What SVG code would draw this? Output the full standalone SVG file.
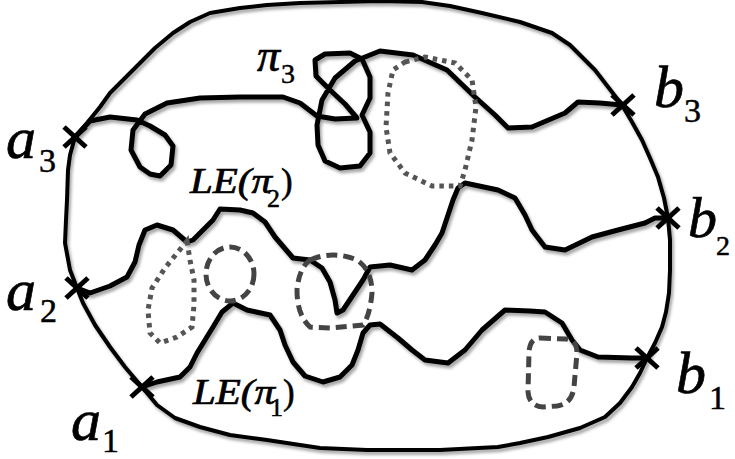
<svg xmlns="http://www.w3.org/2000/svg" width="735" height="459" viewBox="0 0 735 459">
<defs>
<filter id="sh" x="-5%" y="-5%" width="110%" height="115%">
<feDropShadow dx="2" dy="3" stdDeviation="1.8" flood-color="#000" flood-opacity="0.35"/>
</filter>
</defs>
<style>
.bd{fill:none;stroke:#000;stroke-width:4;stroke-linejoin:round;stroke-linecap:round}
.pa{fill:none;stroke:#000;stroke-width:5;stroke-linejoin:round;stroke-linecap:round}
.dot{fill:none;stroke:#555;stroke-width:5;stroke-dasharray:4.5 5}
.dash{fill:none;stroke:#444;stroke-width:5;stroke-dasharray:11 6}
.x{stroke:#000;stroke-width:5;stroke-linecap:butt}
.lb{font-family:"Liberation Serif","Times New Roman",serif;font-style:italic;fill:#000;stroke:#000;stroke-width:0.7}
.up{font-family:"Liberation Serif","Times New Roman",serif;font-style:normal;fill:#000;stroke:#000;stroke-width:0.5}
</style>
<rect width="735" height="459" fill="#fff"/>
<g id="connectors" filter="url(#sh)">
<path id="boundary" class="bd" d="M75,137 L87,123 L100,107 L110,93 L125,78 L140,63 L155,48 L173,33 L190,22 L210,13 L240,8 L267,5 L300,3 L340,2 L380,1 L422,2 L450,6 L482,13 L520,22 L552,33 L570,45 L582,57 L595,70 L605,83 L622,105 L632,122 L642,140 L650,158 L658,177 L664,198 L668,218 L670,240 L670,270 L669,293 L666,312 L662,327 L655,343 L647,358 L640,373 L632,387 L620,403 L605,417 L580,428 L548,437 L520,443 L498,447 L440,450 L367,450 L320,448 L267,440 L230,435 L200,427 L175,418 L157,405 L142,387 L125,367 L110,347 L95,325 L83,303 L77,288 L70,270 L65,243 L66,220 L67,200 L68,170 L70,155 Z"/>
<path id="pi3" class="pa" d="M75,137 L90,121 L110,117 L137,120 L150,126 L165,135 L173,146 L171,165 L160,176 L150,174 L140,167 L131,150 L133,130 L145,114 L167,103 L200,98 L240,97 L283,97 L300,103 L317,116 L335,119 L357,118 L345,104 L330,90 L316,76 L315,60 L325,54 L350,53 L362,59 L370,77 L370,98 L362,115 L370,132 L370,153 L360,166 L340,168 L325,161 L318,145 L317,125 L322,100 L335,78 L355,61 L380,51 L413,55 L447,70 L475,97 L495,115 L508,128 L532,127 L565,113 L578,102 L600,103 L622,105"/>
<path id="pi2" class="pa" d="M77,288 L90,293 L110,286 L127,277 L135,262 L139,245 L145,230 L157,225 L173,230 L187,242 L193,240 L205,228 L213,220 L220,209 L240,210 L253,213 L265,222 L275,237 L293,258 L310,260 L322,268 L330,282 L335,300 L337,313 L343,310 L355,292 L363,280 L370,267 L390,265 L412,270 L425,260 L435,245 L442,233 L448,215 L453,200 L458,188 L465,183 L498,190 L515,198 L525,215 L532,230 L545,247 L565,250 L592,237 L618,230 L645,223 L655,218 L668,218"/>
<path id="pi1" class="pa" d="M142,387 L157,382 L180,377 L190,367 L197,353 L205,340 L213,327 L222,312 L233,303 L247,310 L270,315 L280,330 L285,345 L293,362 L305,376 L323,382 L340,377 L352,365 L358,350 L363,333 L370,325 L380,324 L398,338 L412,350 L425,360 L448,363 L465,350 L482,330 L505,310 L530,311 L545,312 L562,323 L572,340 L580,350 L598,357 L632,358 L647,358"/>
</g>
<g id="loops">
<path id="dotted-left" class="dot" d="M187,241 L190,260 L194,280 L194,305 L192,327 L177,337 L160,343 L150,333 L148,310 L152,288 L165,268 L178,252 Z"/>
<path id="dotted-right" class="dot" d="M405,62 L425,57 L455,63 L472,80 L476,107 L472,140 L465,170 L460,186 L432,186 L405,173 L390,153 L386,127 L388,93 L393,70 Z"/>
<ellipse id="dashed-small" class="dash" cx="230" cy="274" rx="24" ry="27"/>
<path id="dashed-mid" class="dash" d="M310,260 Q333,250 357,260 Q372,270 372,293 Q370,315 363,325 L330,328 L310,327 Q297,315 297,290 Q299,268 310,260 Z"/>
<path id="dashed-br" class="dash" d="M540,338 L566,339 Q577,340 577,353 L574,387 Q572,404 557,406 L543,407 Q529,406 528,392 L529,352 Q530,338 540,338 Z"/>
</g>
<g id="a3"><line class="x" x1="64" y1="127" x2="86" y2="147"/><line class="x" x1="64" y1="147" x2="86" y2="127"/><text class="lb" x="6" y="158" font-size="60">a</text><text class="up" x="39" y="172" font-size="34">3</text></g>
<g id="a2"><line class="x" x1="66" y1="278" x2="88" y2="298"/><line class="x" x1="66" y1="298" x2="88" y2="278"/><text class="lb" x="6" y="310" font-size="60">a</text><text class="up" x="40" y="322" font-size="34">2</text></g>
<g id="a1"><line class="x" x1="131" y1="377" x2="153" y2="397"/><line class="x" x1="131" y1="397" x2="153" y2="377"/><text class="lb" x="71" y="440" font-size="60">a</text><text class="up" x="102" y="452" font-size="34">1</text></g>
<g id="b3"><line class="x" x1="612" y1="95" x2="634" y2="115"/><line class="x" x1="612" y1="115" x2="634" y2="95"/><text class="lb" x="654" y="107" font-size="60">b</text><text class="up" x="684" y="122" font-size="34">3</text></g>
<g id="b2"><line class="x" x1="657" y1="208" x2="679" y2="228"/><line class="x" x1="657" y1="228" x2="679" y2="208"/><text class="lb" x="688" y="237" font-size="58">b</text><text class="up" x="716" y="255" font-size="28">2</text></g>
<g id="b1"><line class="x" x1="636" y1="348" x2="658" y2="368"/><line class="x" x1="636" y1="368" x2="658" y2="348"/><text class="lb" x="676" y="393" font-size="60">b</text><text class="up" x="709" y="409" font-size="34">1</text></g>
<g id="label-pi3"><text class="lb" x="257" y="71" font-size="46">π</text><text class="up" x="281" y="83" font-size="28">3</text></g>
<g id="label-le2"><text class="lb" x="190" y="193" font-size="35" textLength="82" lengthAdjust="spacingAndGlyphs">LE(π</text><text class="up" x="267" y="207" font-size="26">2</text><text class="up" x="281" y="193" font-size="35">)</text></g>
<g id="label-le1"><text class="lb" x="193" y="404" font-size="35" textLength="82" lengthAdjust="spacingAndGlyphs">LE(π</text><text class="up" x="270" y="416" font-size="26">1</text><text class="up" x="283" y="404" font-size="35">)</text></g>
</svg>
